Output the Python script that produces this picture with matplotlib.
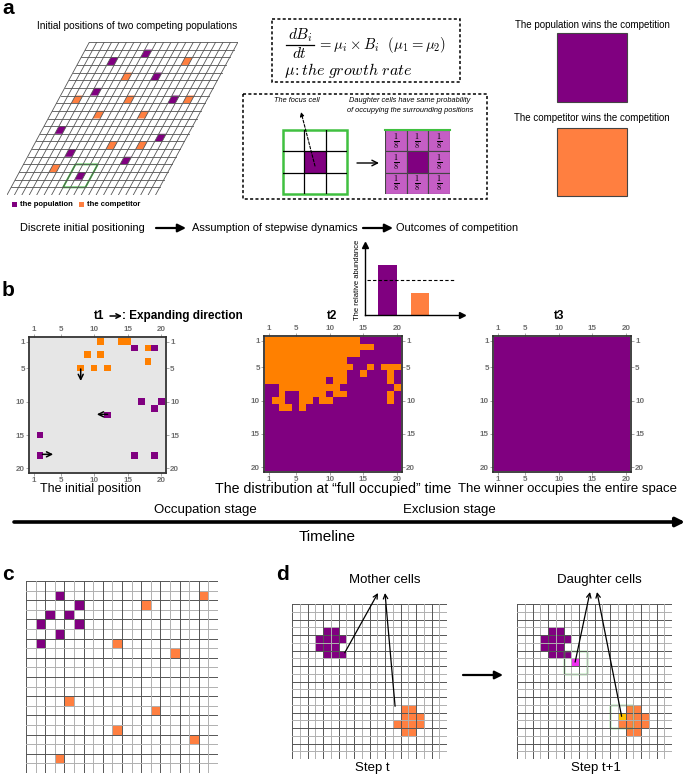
import matplotlib
matplotlib.use("Agg")
import matplotlib.pyplot as plt
import numpy as np
from matplotlib.colors import ListedColormap
from matplotlib.patches import Rectangle, Polygon

plt.rcParams['font.family'] = ['Liberation Sans', 'DejaVu Sans']
plt.rcParams['mathtext.fontset'] = 'cm'

PURPLE = '#800080'
ORANGE = '#ff7f40'
ORANGE_B = '#ff8000'
BG_GRAY = '#e6e6e6'
VIOLET = '#c55ec5'
GREEN = '#40c040'
MAGENTA = '#f030f0'
YELLOW = '#ffc000'

# ---- panel a: skewed 20x20 lattice, (col, row) 0-based
A_POP = [(8, 1), (4, 2), (11, 4), (4, 6), (15, 7), (2, 11), (16, 12), (5, 14), (13, 15), (8, 17)]
A_COMP = [(14, 2), (7, 4), (2, 7), (9, 7), (17, 7), (6, 9), (12, 9), (10, 13), (14, 13), (4, 16)]
A_FOCUS = (8, 17)
NEIGHBOUR_PROB = "1/8"

# ---- inset: relative abundance at "full occupied" time
ABUND = [0.72, 0.31]
ABUND_REF = 0.5

# ---- panel b, t1 (col, row) 1-based
T1_COMP = [(11, 1), (14, 1), (15, 1), (18, 2), (9, 3), (11, 3), (18, 4), (8, 5), (10, 5), (12, 5)]
T1_POP = [(16, 2), (19, 2), (17, 10), (20, 10), (19, 11), (12, 12), (2, 15), (2, 18), (16, 18), (19, 18)]
T1_ARROWS = [((8, 5.1), (8, 6.9)), ((12.0, 11.9), (10.4, 11.9)), ((2.3, 17.9), (3.9, 17.9))]

# ---- panel b, t2 / t3 ('O' competitor, 'P' population)
T2_ROWS = [
    "OOOOOOOOOOOOOOPPPPPP",
    "OOOOOOOOOOOOOOOOPPPP",
    "OOOOOOOOOOOOOOPPPPPP",
    "OOOOOOOOOOOOPPPPPPPP",
    "OOOOOOOOOOOOOPPOPOOO",
    "OOOOOOOOOOOOPPOPPPOP",
    "OOOOOOOOOPOOPPPPPPOP",
    "PPOOOOOOOOOPPPPPPPPO",
    "PPOPPOOOOPOOPPPPPPOP",
    "POOPPOOPOOPPPPPPPPOP",
    "PPOOPOPPPPPPPPPPPPPP",
] + ["P" * 20] * 9
T3_ROWS = ["P" * 20] * 20
TICKS = [1, 5, 10, 15, 20]

# ---- panel c (col, row) 0-based
C_POP = [(3, 1), (5, 2), (2, 3), (4, 3), (1, 4), (5, 4), (3, 5), (1, 6)]
C_COMP = [(18, 1), (12, 2), (9, 6), (15, 7), (4, 12), (13, 13), (9, 15), (17, 16), (3, 18)]

# ---- panel d (col, row) 0-based
D_POP = [(4, 3), (5, 3), (3, 4), (4, 4), (5, 4), (6, 4), (3, 5), (4, 5), (5, 5), (4, 6), (5, 6), (6, 6)]
D_COMP = [(14, 13), (15, 13), (14, 14), (15, 14), (16, 14), (13, 15), (14, 15), (15, 15), (16, 15),
          (14, 16), (15, 16)]
D_MOTHER = [(6.8, 6.3), (13.3, 13.2)]
D_DAUGHTER_POP = (7, 7)
D_DAUGHTER_COMP = (13, 14)

W, H = 685, 776
fig = plt.figure(figsize=(W / 100, H / 100), dpi=100)


def add_box(x0, y0, x1, y1):
    ax = fig.add_axes([x0 / W, 1 - y1 / H, (x1 - x0) / W, (y1 - y0) / H])
    ax.patch.set_visible(False)
    return ax


canvas = fig.add_axes([0, 0, 1, 1])
canvas.set_xlim(0, W)
canvas.set_ylim(H, 0)
canvas.axis('off')
canvas.patch.set_visible(False)
canvas.set_zorder(10)


def arrow(p0, p1, style='-|>', lw=1.0, ms=10, **kw):
    canvas.annotate('', xy=p1, xytext=p0,
                    arrowprops=dict(arrowstyle=style, lw=lw, color='k', mutation_scale=ms,
                                    shrinkA=0, shrinkB=0, **kw))


def label(x, y, s, size=9, **kw):
    canvas.text(x, y, s, fontsize=size, ha=kw.pop('ha', 'center'), va=kw.pop('va', 'center'), **kw)


# =============== panel a ===============
label(2, 9, 'a', size=15, weight='bold', ha='left')
label(137, 26, 'Initial positions of two competing populations', size=7.3)

SK = 0.555
ax = add_box(7, 42, 238, 195)
ax.set_xlim(-20 * SK, 20)
ax.set_ylim(20, 0)
ax.axis('off')


def skew_cell(c, r, n=1):
    return [(c - SK * r, r), (c + n - SK * r, r), (c + n - SK * (r + n), r + n), (c - SK * (r + n), r + n)]


for c, r in A_POP:
    ax.add_patch(Polygon(skew_cell(c, r), closed=True, fc=PURPLE, ec='none'))
for c, r in A_COMP:
    ax.add_patch(Polygon(skew_cell(c, r), closed=True, fc=ORANGE, ec='none'))
for k in range(21):
    ax.plot([k, k - 20 * SK], [0, 20], color='#555555', lw=0.6)
    ax.plot([-SK * k, 20 - SK * k], [k, k], color='#555555', lw=0.6)
fc, fr = A_FOCUS
ax.add_patch(Polygon(skew_cell(fc - 1, fr - 1, 3), closed=True, fill=False, ec=GREEN, lw=1.3))

canvas.add_patch(Rectangle((12, 202), 5, 5, fc=PURPLE, ec='none'))
label(20, 205, 'the population', size=5.5, weight='bold', ha='left')
canvas.add_patch(Rectangle((79, 202), 5, 5, fc=ORANGE, ec='none'))
label(87, 205, 'the competitor', size=5.5, weight='bold', ha='left')

# equation box
canvas.add_patch(Rectangle((272, 19), 188, 63, fill=False, ec='k', lw=1.1, ls=(0, (2, 1.5))))
label(300, 35, r'$dB_i$', size=11)
canvas.plot([286, 314], [44.5, 44.5], color='k', lw=0.9)
label(300, 53, r'$dt$', size=11)
label(317, 45, r'$= \mu_i \times B_i\ \ (\mu_1 = \mu_2)$', size=10.6, ha='left')
label(284, 71, r'$\mu\!: the\ growth\ rate$', size=11.5, ha='left')

# stepwise dynamics box
canvas.add_patch(Rectangle((243, 94), 244, 105, fill=False, ec='k', lw=1.1, ls=(0, (2, 1.5))))
label(297, 100, 'The focus cell', size=5.3, style='italic')
label(410, 100, 'Daughter cells have same probability', size=5.3, style='italic')
label(410, 110, 'of occupying the surrounding positions', size=5.3, style='italic')

ax = add_box(283, 130, 347, 194)
ax.set_xlim(0, 3)
ax.set_ylim(3, 0)
ax.axis('off')
ax.add_patch(Rectangle((1, 1), 1, 1, fc=PURPLE, ec='none'))
for k in (1, 2):
    ax.plot([k, k], [0, 3], color='k', lw=0.9)
    ax.plot([0, 3], [k, k], color='k', lw=0.9)
ax.add_patch(Rectangle((0, 0), 3, 3, fill=False, ec=GREEN, lw=1.8, clip_on=False))
arrow((315, 166), (301, 112), lw=0.8, ms=6, ls=(0, (2.5, 1.5)))
arrow((357, 163), (379, 163), style='->', lw=1.0, ms=10)

ax = add_box(385, 130, 450, 194)
ax.set_xlim(0, 3)
ax.set_ylim(3, 0)
ax.axis('off')
num, den = NEIGHBOUR_PROB.split('/')
for i in range(3):
    for j in range(3):
        centre = (i == 1 and j == 1)
        ax.add_patch(Rectangle((i, j), 1, 1, fc=PURPLE if centre else VIOLET, ec='#444444', lw=0.8))
        if not centre:
            ax.text(i + 0.5, j + 0.5, r'$\frac{%s}{%s}$' % (num, den), fontsize=8.5, ha='center', va='center')
ax.plot([0, 3], [0, 0], color=GREEN, lw=1.5, clip_on=False)

# outcomes
label(592, 25, 'The population wins the competition', size=7)
canvas.add_patch(Rectangle((557, 33), 70, 69, fc=PURPLE, ec='#444444', lw=0.8))
label(592, 118, 'The competitor wins the competition', size=7)
canvas.add_patch(Rectangle((557, 128), 70, 68, fc=ORANGE, ec='#444444', lw=0.8))

# flow row
label(82, 228, 'Discrete initial positioning', size=7.9)
arrow((156, 228), (186, 228), lw=1.6, ms=12)
label(275, 228, 'Assumption of stepwise dynamics', size=7.9)
arrow((363, 228), (393, 228), lw=1.6, ms=12)
label(457, 228, 'Outcomes of competition', size=7.9)

# =============== panel b ===============
label(2, 290, 'b', size=15, weight='bold', ha='left')

ax = add_box(365, 245, 462, 315)
ax.bar([1, 2], ABUND, width=0.56, color=[PURPLE, ORANGE])
ax.plot([0.375, 3.03], [ABUND_REF, ABUND_REF], color='k', lw=0.8, dashes=(3, 2))
ax.set_xlim(0.31, 3.28)
ax.set_ylim(0, 1)
ax.set_xticks([])
ax.set_yticks([])
for s in ('top', 'right'):
    ax.spines[s].set_visible(False)
for s in ('left', 'bottom'):
    ax.spines[s].set_linewidth(1.0)
ax.plot(1, 0, '>k', ms=4, transform=ax.transAxes, clip_on=False)
ax.plot(0, 1, '^k', ms=4, transform=ax.transAxes, clip_on=False)
ax.set_ylabel('The relative abundance', fontsize=5.5, labelpad=3)


def lattice(box, grid, colors, title, tx):
    ax = add_box(*box)
    ax.patch.set_visible(True)
    ax.imshow(grid, cmap=ListedColormap(colors), vmin=0, vmax=len(colors) - 1,
              extent=(0.5, 20.5, 20.5, 0.5), interpolation='nearest', aspect='auto')
    ax.set_xlim(0.3, 20.7)
    ax.set_ylim(20.7, 0.3)
    ax.set_xticks(TICKS)
    ax.set_yticks(TICKS)
    ax.tick_params(top=True, labeltop=True, right=True, labelright=True, length=2, width=0.6,
                   color='#999999', labelsize=5.8, labelcolor='#707070', pad=1)
    for lab in ax.get_xticklabels() + ax.get_yticklabels():
        lab.set_fontweight('bold')
    for s in ax.spines.values():
        s.set_linewidth(1.3)
        s.set_color('#333333')
    label(tx, 316, title, size=8.5, weight='bold')
    return ax


def grid_from_rows(rows):
    return np.array([[1 if ch == 'O' else 2 for ch in row] for row in rows])


t1 = np.zeros((20, 20), dtype=int)
for c, r in T1_COMP:
    t1[r - 1, c - 1] = 1
for c, r in T1_POP:
    t1[r - 1, c - 1] = 2
ax = lattice((29, 337, 166, 473), t1, [BG_GRAY, ORANGE_B, PURPLE], 't1', 99)
for tail, tip in T1_ARROWS:
    ax.annotate('', xy=tip, xytext=tail,
                arrowprops=dict(arrowstyle='->', lw=1.1, color='k', mutation_scale=9, shrinkA=0, shrinkB=0))
arrow((110, 316), (122, 316), style='->', lw=1.1, ms=8)
label(122, 316, ': Expanding direction', size=8.5, weight='bold', ha='left')
label(91, 489, 'The initial position', size=9)

lattice((264, 336, 402, 472), grid_from_rows(T2_ROWS), [BG_GRAY, ORANGE_B, PURPLE], 't2', 332)
label(333, 489, 'The distribution at \u201cfull occupied\u201d time', size=10.2)

lattice((493, 336, 631, 472), grid_from_rows(T3_ROWS), [BG_GRAY, ORANGE_B, PURPLE], 't3', 559)
label(568, 489, 'The winner occupies the entire space', size=9.5)

# timeline
label(205, 510, 'Occupation stage', size=9.5)
label(449, 510, 'Exclusion stage', size=9.5)
arrow((14, 522), (685, 522), lw=2.6, ms=13)
label(327, 537, 'Timeline', size=11)


# =============== panels c, d ===============
def square_grid(box, cells, boxes=()):
    ax = add_box(*box)
    ax.set_xlim(0, 20)
    ax.set_ylim(20, 0)
    ax.axis('off')
    for color, pts in cells:
        for c, r in pts:
            ax.add_patch(Rectangle((c, r), 1, 1, fc=color, ec='none'))
    for k in range(21):
        col = '#555555' if k % 2 == 0 else '#b0b0b0'
        ax.plot([k, k], [0, 20], color=col, lw=0.7)
        ax.plot([0, 20], [k, k], color=col, lw=0.7)
    for c, r in boxes:
        ax.add_patch(Rectangle((c - 1, r - 1), 3, 3, fill=False, ec=GREEN, lw=1.0))
    return ax


label(2, 575, 'c', size=15, weight='bold', ha='left')
square_grid((26, 581, 218, 773), [(PURPLE, C_POP), (ORANGE, C_COMP)])

label(276, 575, 'd', size=15, weight='bold', ha='left')
GL, GR, GT, CELL = 292, 517, 604, 155 / 20
square_grid((GL, GT, GL + 155, GT + 155), [(PURPLE, D_POP), (ORANGE, D_COMP)])
square_grid((GR, GT, GR + 155, GT + 155),
            [(PURPLE, D_POP), (ORANGE, D_COMP), (MAGENTA, [D_DAUGHTER_POP]), (YELLOW, [D_DAUGHTER_COMP])],
            boxes=[D_DAUGHTER_POP, D_DAUGHTER_COMP])

label(385, 580, 'Mother cells', size=9.5)
label(599, 580, 'Daughter cells', size=9.5)
label(372, 768, 'Step t', size=9.5)
label(596, 768, 'Step t+1', size=9.5)

tips_left = [(378, 593), (385, 593)]
for (c, r), tip in zip(D_MOTHER, tips_left):
    arrow((GL + c * CELL, GT + r * CELL), tip, style='->', lw=0.9, ms=8)
tips_right = [(590, 592), (597, 592)]
for (c, r), tip in zip([D_DAUGHTER_POP, D_DAUGHTER_COMP], tips_right):
    arrow((GR + (c + 0.5) * CELL, GT + (r + 0.5) * CELL), tip, style='->', lw=0.9, ms=8)
arrow((463, 675), (503, 675), lw=1.6, ms=12)

fig.savefig('out.png', dpi=100)
